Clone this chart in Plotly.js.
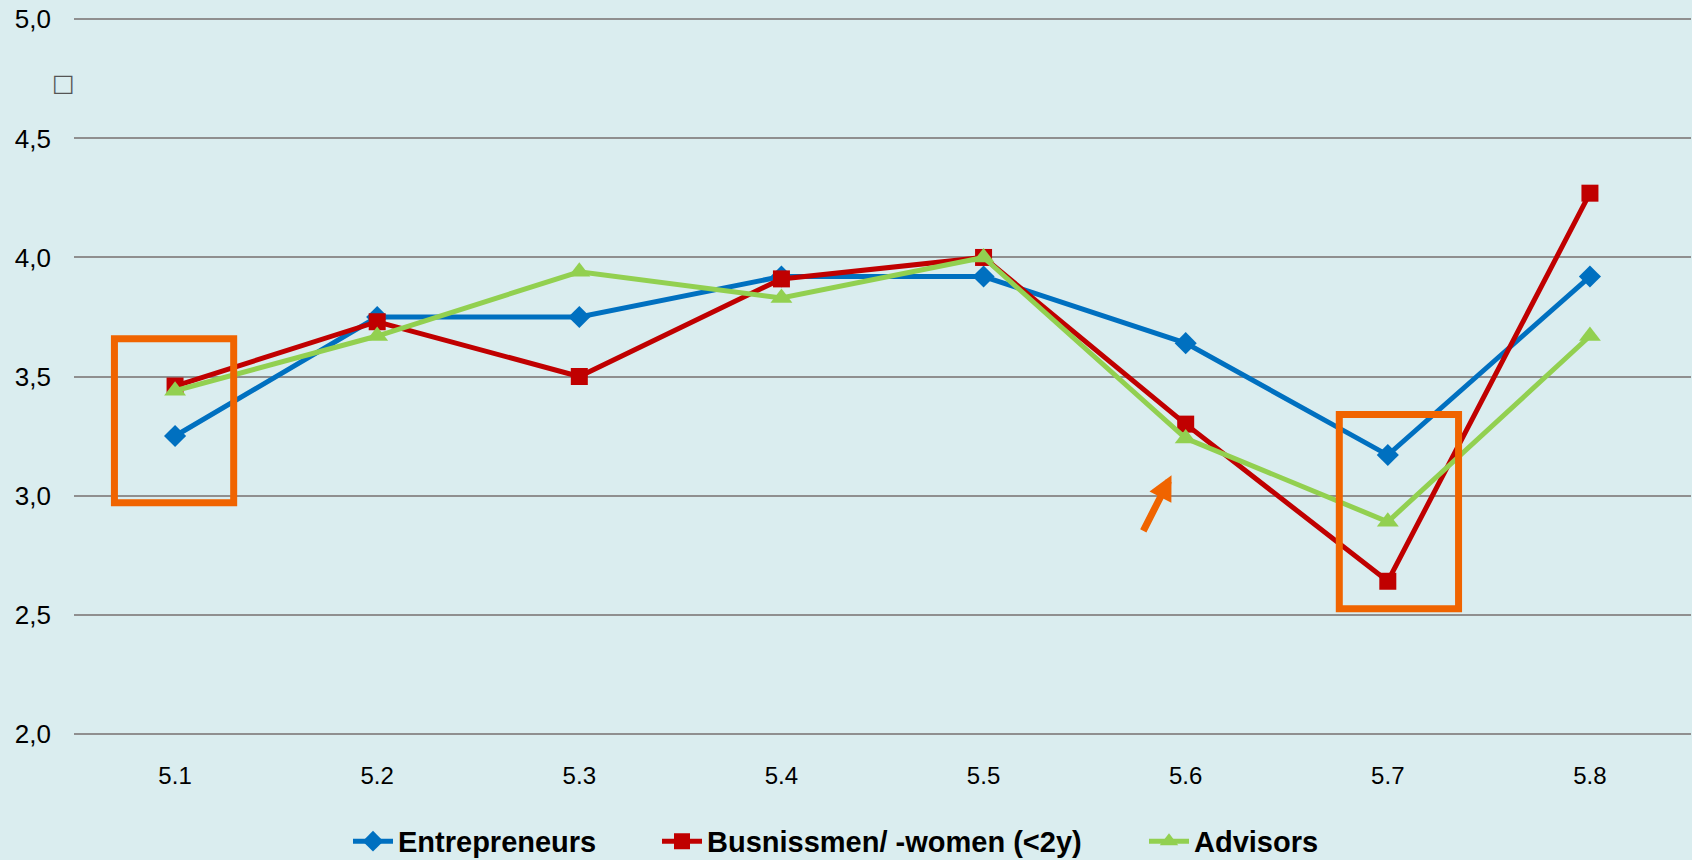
<!DOCTYPE html>
<html>
<head>
<meta charset="utf-8">
<script src="https://cdn.plot.ly/plotly-3.0.1.min.js"></script>
<style>
html,body{margin:0;padding:0;background:#DAEDEF;}
#chart{width:1692px;height:860px;}
</style>
</head>
<body>
<div id="chart"></div>
<script>
const categories = ['5.1','5.2','5.3','5.4','5.5','5.6','5.7','5.8'];
const entrepreneurs = [3.25, 3.75, 3.75, 3.92, 3.92, 3.64, 3.17, 3.92];
const businesspeople = [3.46, 3.73, 3.50, 3.91, 4.00, 3.30, 2.64, 4.27];
const advisors = [3.44, 3.67, 3.94, 3.83, 4.00, 3.24, 2.89, 3.67];
const seriesNames = ['Entrepreneurs', 'Busnissmen/ -women (<2y)', 'Advisors'];
const yTicks = [2.0, 2.5, 3.0, 3.5, 4.0, 4.5, 5.0];

const orange = '#F06400';
const traces = [
  {x: categories, y: entrepreneurs, name: seriesNames[0], type: 'scatter', mode: 'lines+markers', legend: 'legend',
   line: {color: '#0070C0', width: 5}, marker: {symbol: 'diamond', size: 17, color: '#0070C0'}},
  {x: categories, y: businesspeople, name: seriesNames[1], type: 'scatter', mode: 'lines+markers', legend: 'legend2',
   line: {color: '#C00000', width: 5}, marker: {symbol: 'square', size: 17, color: '#C00000'}},
  {x: categories, y: advisors, name: seriesNames[2], type: 'scatter', mode: 'lines+markers', legend: 'legend3',
   line: {color: '#92D050', width: 5}, marker: {symbol: 'triangle-up', size: 19, color: '#92D050'}}
];

const legendFont = {size: 29, family: 'Liberation Sans, Arial, sans-serif', weight: 'bold', color: '#000'};
function leg(xpx) {
  return {orientation: 'h', x: (xpx - 74) / 1617, xanchor: 'left', y: -0.111, yanchor: 'top',
          font: legendFont, bgcolor: 'rgba(0,0,0,0)', itemwidth: 40};
}

const layout = {
  width: 1692, height: 860,
  paper_bgcolor: '#DAEDEF', plot_bgcolor: '#DAEDEF',
  margin: {l: 74, r: 1, t: 17.1, b: 124.3, autoexpand: false},
  separators: ',.',
  font: {family: 'Liberation Sans, Arial, sans-serif', color: '#000'},
  xaxis: {type: 'category', range: [-0.5, 7.5], showgrid: false, zeroline: false, showline: false,
          ticks: '', tickfont: {size: 24}, ticklabelstandoff: 23},
  yaxis: {range: [1.99, 5.01], tickvals: yTicks, tickformat: '.1f', showgrid: true, gridcolor: '#8F8F8F',
          gridwidth: 2, zeroline: false, showline: false, ticks: '', tickfont: {size: 26},
          ticklabelstandoff: 22},
  showlegend: true,
  legend: leg(348),
  legend2: leg(657),
  legend3: leg(1144),
  shapes: [
    {type: 'rect', xref: 'x', yref: 'y', x0: -0.30, x1: 0.29, y0: 2.97, y1: 3.659,
     line: {color: orange, width: 7}, layer: 'above'},
    {type: 'rect', xref: 'x', yref: 'y', x0: 5.76, x1: 6.35, y0: 2.524, y1: 3.34,
     line: {color: orange, width: 7}, layer: 'above'}
  ],
  annotations: [
    {xref: 'x', yref: 'y', x: 4.93, y: 3.085, ax: -29, ay: 57, text: '', showarrow: true,
     arrowcolor: orange, arrowwidth: 7, arrowhead: 2, arrowsize: 0.7},
    {xref: 'paper', yref: 'paper', x: -0.0068, y: 0.908, text: '\u25A1', showarrow: false,
     xanchor: 'center', yanchor: 'middle', font: {size: 24, color: '#555', family: 'DejaVu Sans'}}
  ]
};

Plotly.newPlot('chart', traces, layout, {displayModeBar: false});
</script>
</body>
</html>
